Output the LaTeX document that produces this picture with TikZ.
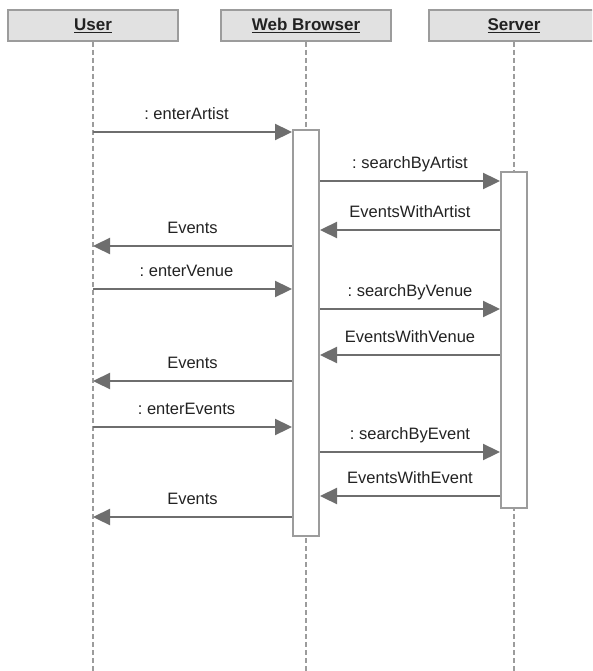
\documentclass[tikz,border=0pt]{standalone}
\usepackage{fontspec}
\setmainfont{Liberation Sans}
\usetikzlibrary{arrows.meta}
\frenchspacing
\definecolor{msgline}{HTML}{6E6E6E}
\definecolor{boxgray}{HTML}{9C9C9C}
\definecolor{headfill}{HTML}{E1E1E1}
\definecolor{txt}{HTML}{222222}
\tikzset{
  head/.style={draw=boxgray, fill=headfill, line width=2pt, minimum width=170pt,
    minimum height=31pt, inner sep=0pt, text=txt, font=\fontsize{17}{20}\selectfont\bfseries},
  life/.style={draw=boxgray, line width=2pt, dash pattern=on 5pt off 3pt},
  bar/.style={draw=boxgray, fill=white, line width=2pt, minimum width=26pt, inner sep=0pt},
  msg/.style={draw=msgline, line width=2.3pt, -{Triangle[length=17pt,width=16pt]}},
  lbl/.style={above, inner sep=0pt, yshift=11pt, text depth=0pt, text=txt,
    font=\fontsize{16.5}{19}\selectfont}
}
\begin{document}
\begin{tikzpicture}[x=1pt, y=-1pt]
    \def\xu{93}
    \def\xw{306}
    \def\xs{514}
    \useasboundingbox (0,0) rectangle (592,671);
    \begin{scope}
    \clip (0,0) rectangle (592,671);
    \node[head] (H0) at (\xu, 25.5) {\underline{User}};
    \node[head] (H1) at (\xw, 25.5) {\underline{Web Browser}};
    \node[head] (H2) at (\xs, 25.5) {\underline{Server}};
    \end{scope}
    % lifelines
    \coordinate (E0) at (\xu, 671);
    \coordinate (E1) at (\xw, 671);
    \coordinate (E2) at (\xs, 671);
    \path (H0) edge [life] (E0);
    \path (H1) edge [life] (E1);
    \path (H2) edge [life] (E2);
    % activations
    \node[bar, minimum height=406pt] (B1) at (\xw, 333) {};
    \node[bar, minimum height=336pt] (B2) at (\xs, 340) {};
    % message rows
    \coordinate (M1) at (\xw, 132);
    \coordinate (M2) at (\xw, 181);
    \coordinate (M3) at (\xw, 230);
    \coordinate (M4) at (\xw, 246);
    \coordinate (M5) at (\xw, 289);
    \coordinate (M6) at (\xw, 309);
    \coordinate (M7) at (\xw, 355);
    \coordinate (M8) at (\xw, 381);
    \coordinate (M9) at (\xw, 427);
    \coordinate (M10) at (\xw, 452);
    \coordinate (M11) at (\xw, 496);
    \coordinate (M12) at (\xw, 517);
    \path (H0 |- M1) edge [msg] node [lbl,xshift=-6pt] {: enterArtist} (B1.west |- M1);
    \path (B1.east |- M2) edge [msg] node [lbl] {: searchByArtist} (B2.west |- M2);
    \path (B2.west |- M3) edge [msg] node [lbl] {EventsWithArtist} (B1.east |- M3);
    \path (B1.west |- M4) edge [msg] node [lbl] {Events} (H0 |- M4);
    \path (H0 |- M5) edge [msg] node [lbl,xshift=-6pt] {: enterVenue} (B1.west |- M5);
    \path (B1.east |- M6) edge [msg] node [lbl] {: searchByVenue} (B2.west |- M6);
    \path (B2.west |- M7) edge [msg] node [lbl] {EventsWithVenue} (B1.east |- M7);
    \path (B1.west |- M8) edge [msg] node [lbl] {Events} (H0 |- M8);
    \path (H0 |- M9) edge [msg] node [lbl,xshift=-6pt] {: enterEvents} (B1.west |- M9);
    \path (B1.east |- M10) edge [msg] node [lbl] {: searchByEvent} (B2.west |- M10);
    \path (B2.west |- M11) edge [msg] node [lbl] {EventsWithEvent} (B1.east |- M11);
    \path (B1.west |- M12) edge [msg] node [lbl] {Events} (H0 |- M12);
\end{tikzpicture}
\end{document}
